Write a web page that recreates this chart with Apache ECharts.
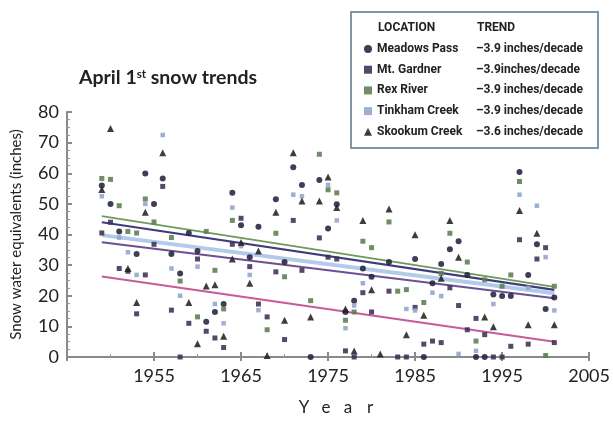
<!DOCTYPE html>
<html>
<head>
<meta charset="utf-8">
<title>April 1st snow trends</title>
<script src="https://cdn.jsdelivr.net/npm/echarts@6/dist/echarts.min.js"></script>
<style>
  html, body { margin: 0; padding: 0; background: #ffffff; }
  #chart { width: 613px; height: 421px; }
</style>
</head>
<body>
<div id="chart"></div>
<script>
// Snow-course years and April 1st snow water equivalents (inches); null = no reading
const years = [];
for (let y = 1949; y <= 2001; y++) years.push(y);

const meadowsPass = [56, 50, 41, null, 33.6, 59.9, 50, 58.3, 33.6, 27.3, 40.5, 34.6, 11.5, 14.7, 17.3,
  53.6, 43, 32.6, 42.5, null, 51.5, 31, 62, 56.2, 0, 57.8, 42, 49.9, 14.7, 18.4, 28.9, 26.2, null,
  31, null, null, 32, 0, 24.1, 30.4, 35.2, 37.8, 26.8, 0, 0, 20.4, 19.9, 19.9, 60.4, 26.8, 36.8, 15.7, 19.4];
const mtGardner = [40.5, 44, 28.9, 28, 14.1, 26.8, 36.8, 55.7, 15.3, 0, 11, 32, 8.4, 6.2, 3.1,
  36.8, 45.3, 29.5, 17.3, 13.1, 27.8, 5.7, 44.6, 28.3, null, 38.9, 32.6, 32, 2, 0, 21, 14.7, null,
  21.5, 0, 0, 16.2, 4.2, 5.2, 4.7, 22.6, 16.8, 8.9, 12.6, 7.3, 0, 0, 3.5, 38.3, 4.2, 32, 35.7, 4.7];
const rexRiver = [58.3, 58, 49.4, 41, 40.5, 51.6, 44.1, null, 39, 24.8, null, 13.1, 41, 28.3, 15.7,
  44.6, null, null, null, 8.9, 40.4, 26.2, null, null, 18.4, 66.2, 54.6, 53.6, 12, 14.7, 37.8, 35.7, null,
  44.1, 21.5, 22, null, 17.8, null, 27.3, 40.4, null, 31, 5.2, 25.2, null, 23.1, 26.8, 57.3, null, null, 0.5, 23.1];
const tinkhamCreek = [52.5, null, 39, 34.2, 26.8, 50, null, 72.5, 28.9, 20, null, 29.5, null, 17.3, 11,
  48.8, 36.2, 26.8, 15.3, null, null, null, 53, 52.5, null, null, 56.2, 44.6, 9.4, 16.8, 24.1, null, null,
  null, null, 15.7, 15.2, null, 21, 19.9, null, 1, null, 2, null, 17.3, null, null, 53, 22.6, 49.4, 32.6, 15.2];
const skookumCreek = [54.7, 74.6, null, 28.9, 17.8, 47.3, null, 66.7, null, null, 17.8, 4.3, 23.2, 23.6, 6.8,
  32, 37.4, 24.1, 34.6, 0.5, 47.3, 12, 66.7, 50.9, 13.1, 50.9, 58.8, 48.8, 15.7, 2, 44.6, 22, 1,
  48.3, null, 7.3, 39.9, 13.6, null, 25.7, 44.6, 32.6, null, null, 13.1, 9.9, null, null, 47.8, 10.5, 40.4, null, 10.5];

// Fitted trend values at the first and last year of record
const trendYears = [1949, 2001];
const trendRex = [46, 22.9];
const trendMeadows = [44, 21.9];
const trendTinkham = [39.8, 20.8];
const trendGardner = [37.5, 19.2];
const trendSkookum = [26.3, 5];

// Legend rows: location and stated trend
const locations = ['Meadows Pass', 'Mt. Gardner', 'Rex River', 'Tinkham Creek', 'Skookum Creek'];
const trendLabels = ['–3.9 inches/decade', '–3.9inches/decade', '–3.9 inches/decade', '–3.9 inches/decade', '–3.6 inches/decade'];

// Axis ticks
const xTickYears = [1945, 1955, 1965, 1975, 1985, 1995, 2005];
const yTicks = [0, 10, 20, 30, 40, 50, 60, 70, 80];

const pairs = (vals) => years.map((y, i) => [y, vals[i]]).filter(p => p[1] !== null);
const trendPairs = (vals) => trendYears.map((y, i) => [y, vals[i]]);

const numFont = 'Lato, "Open Sans", sans-serif';
const legendFont = 'Roboto, "Noto Sans", sans-serif';

const chart = echarts.init(document.getElementById('chart'), null, { renderer: 'canvas' });

const scatterStyles = [
  { data: meadowsPass, symbol: 'circle', size: 6, color: '#23233f' },
  { data: mtGardner, symbol: 'rect', size: 5, color: '#3d3055' },
  { data: rexRiver, symbol: 'rect', size: 5, color: '#5d7d52' },
  { data: tinkhamCreek, symbol: 'rect', size: 4.5, color: '#90a5cc' },
  { data: skookumCreek, symbol: 'triangle', size: 7, color: '#222222' }
];

const trendStyles = [
  { data: trendRex, color: '#6f9a5c', width: 2 },
  { data: trendMeadows, color: '#3e3c7c', width: 2.2 },
  { data: trendTinkham, color: '#b3cbea', width: 4 },
  { data: trendGardner, color: '#6c4f94', width: 2 },
  { data: trendSkookum, color: '#c75b98', width: 2 }
];

const series = [];
trendStyles.forEach((t, i) => {
  series.push({
    type: 'line',
    name: 'trend-' + i,
    data: trendPairs(t.data),
    showSymbol: false,
    silent: true,
    z: 1,
    lineStyle: { color: t.color, width: t.width }
  });
});
scatterStyles.forEach((s, i) => {
  series.push({
    type: 'scatter',
    name: locations[i],
    data: pairs(s.data),
    symbol: s.symbol,
    symbolSize: s.size,
    z: 3,
    itemStyle: { color: s.color, opacity: 0.88 }
  });
});

const option = {
  animation: false,
  backgroundColor: '#ffffff',
  title: {
    text: '{b|April 1}{s|st}{b| snow trends}',
    left: 74,
    top: 63,
    textStyle: {
      rich: {
        b: { fontFamily: numFont, fontWeight: 'bold', fontSize: 19.5, color: '#222222' },
        s: { fontFamily: numFont, fontWeight: 'bold', fontSize: 11.5, color: '#222222', padding: [0, 0, 8, 0] }
      }
    }
  },
  grid: { left: 67, right: 22, top: 112, bottom: 54.5 },
  legend: {
    data: locations,
    orient: 'vertical',
    left: 364,
    top: 43,
    padding: 0,
    itemWidth: 8,
    itemHeight: 8,
    itemGap: 8.7,
    selectedMode: false,
    formatter: (name) => '{n|' + name + '}{t|' + trendLabels[locations.indexOf(name)] + '}',
    textStyle: {
      rich: {
        n: { width: 99, fontFamily: legendFont, fontWeight: 'bold', fontSize: 12, lineHeight: 12, color: '#222222' },
        t: { fontFamily: legendFont, fontWeight: 'bold', fontSize: 12, lineHeight: 12, color: '#222222' }
      }
    }
  },
  graphic: [
    {
      type: 'rect',
      shape: { x: 351, y: 12, width: 247, height: 136 },
      style: { fill: '#ffffff', stroke: '#8096ac', lineWidth: 2 },
      z: -1
    },
    {
      type: 'text',
      x: 378, y: 28,
      style: { text: 'LOCATION', font: 'bold 12px ' + legendFont, fill: '#222222', verticalAlign: 'middle' }
    },
    {
      type: 'text',
      x: 477, y: 28,
      style: { text: 'TREND', font: 'bold 12px ' + legendFont, fill: '#222222', verticalAlign: 'middle' }
    }
  ],
  xAxis: [
    {
      type: 'value',
      min: xTickYears[0],
      max: xTickYears[xTickYears.length - 1],
      interval: 10,
      name: '{l|Y}{l|e}{l|a}{l|r}',
      nameLocation: 'middle',
      nameGap: 42,
      nameTextStyle: {
        padding: [0, 0, 0, 18],
        rich: { l: { width: 22, align: 'center', fontFamily: numFont, fontSize: 17, color: '#222222' } }
      },
      axisLine: { onZero: false, lineStyle: { color: '#8a8a8a', width: 2 } },
      axisTick: { inside: true, length: 5, lineStyle: { color: '#8a8a8a', width: 2 } },
      minorTick: { show: true, splitNumber: 2, length: 3, lineStyle: { color: '#9a9a9a', width: 1 } },
      splitLine: { show: false },
      axisLabel: {
        margin: 10,
        fontFamily: numFont,
        fontSize: 18,
        color: '#222222',
        formatter: (v) => (xTickYears.indexOf(v) > 0 ? String(v) : '')
      }
    },
    {
      type: 'value',
      position: 'bottom',
      min: xTickYears[0],
      max: xTickYears[xTickYears.length - 1],
      interval: 10,
      axisLine: { show: false },
      axisTick: { inside: false, length: 4, lineStyle: { color: '#8a8a8a', width: 2 } },
      axisLabel: { show: false },
      splitLine: { show: false }
    }
  ],
  yAxis: {
    type: 'value',
    min: yTicks[0],
    max: yTicks[yTicks.length - 1],
    interval: 10,
    name: 'Snow water equivalents (inches)',
    nameLocation: 'middle',
    nameGap: 43,
    nameRotate: 90,
    nameTextStyle: { fontFamily: numFont, fontSize: 15, color: '#222222' },
    axisLine: { show: true, lineStyle: { color: '#8a8a8a', width: 2 } },
    axisTick: { inside: true, length: 5, lineStyle: { color: '#8a8a8a', width: 2 } },
    minorTick: { show: true, splitNumber: 4, length: 3, lineStyle: { color: '#9a9a9a', width: 1 } },
    splitLine: { show: false },
    axisLabel: { margin: 8, fontFamily: numFont, fontSize: 18, color: '#222222' }
  },
  series: series
};

chart.setOption(option);
</script>
</body>
</html>
